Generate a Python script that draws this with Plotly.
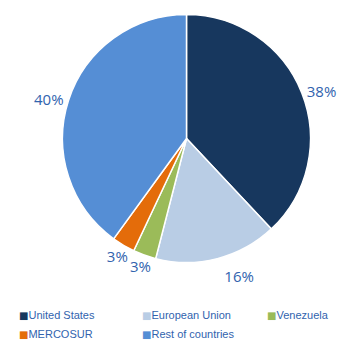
import plotly.graph_objects as go

categories = ["United States", "European Union", "Venezuela", "MERCOSUR", "Rest of countries"]
values = [38, 16, 3, 3, 40]
colors = ["#17375E", "#B9CDE5", "#9BBB59", "#E46C0A", "#558ED5"]
legend_columns = [0, 1, 2, 0, 1]  # legend column of each category
label_groups = ["main", "outB", "ring", "ring", "main"]

W, H = 341, 340
cx, cy, r = 186.5, 138.5, 124
TXT = "#3163AE"
LABEL_FONT = dict(family="Open Sans", size=15, color=TXT)


def dom(radius):
    return dict(x=[(cx - radius) / W, (cx + radius) / W],
                y=[(H - cy - radius) / H, (H - cy + radius) / H])


def positions(grp, mode):
    return [mode if g == grp else "none" for g in label_groups]


fig = go.Figure()
# the visible pie (also carries the labels of the two largest slices)
fig.add_trace(go.Pie(
    labels=categories, values=values, sort=False, direction="clockwise", rotation=0,
    marker=dict(colors=colors, line=dict(color="white", width=1.5)),
    texttemplate="%{percent:.0%}", textposition=positions("main", "outside"),
    textfont=LABEL_FONT, outsidetextfont=LABEL_FONT,
    domain=dom(r), showlegend=False, hoverinfo="skip",
))

clear = ["rgba(0,0,0,0)"] * len(values)
# transparent pie placing a label a bit further out
fig.add_trace(go.Pie(
    labels=categories, values=values, sort=False, direction="clockwise", rotation=0,
    marker=dict(colors=clear, line=dict(width=0)),
    texttemplate="%{percent:.0%}", textposition=positions("outB", "outside"),
    textfont=LABEL_FONT, outsidetextfont=LABEL_FONT,
    domain=dom(132), showlegend=False, hoverinfo="skip",
))
# transparent thin ring for the labels of the two small slices
fig.add_trace(go.Pie(
    labels=categories, values=values, sort=False, direction="clockwise", rotation=0,
    hole=0.97, marker=dict(colors=clear, line=dict(width=0)),
    texttemplate="%{percent:.0%}", insidetextorientation="horizontal",
    textposition=positions("ring", "inside"),
    textfont=LABEL_FONT, insidetextfont=LABEL_FONT,
    domain=dom(138), showlegend=False, hoverinfo="skip",
))

# legend entries (coloured square glyph + name)
legend_names = ["legend", "legend2", "legend3"]
for cat, col, lc in zip(categories, colors, legend_columns):
    fig.add_trace(go.Scatter(
        x=[None], y=[None], mode="markers",
        name=f"<span style='color:{col};font-family:DejaVu Sans;font-size:10px'>■</span>{cat}",
        marker=dict(symbol="square", size=8, color="rgba(0,0,0,0)", line=dict(width=0)),
        legend=legend_names[lc], hoverinfo="skip",
    ))

leg_font = dict(family="Liberation Sans", size=11, color=TXT)
swatch_x = [19, 142, 267]
leg_common = dict(orientation="v", xanchor="left", yanchor="top", y=0.1162,
                  font=leg_font, bgcolor="rgba(0,0,0,0)", itemclick=False,
                  tracegroupgap=0, borderwidth=0)
fig.update_layout(
    width=W, height=H, margin=dict(l=0, r=0, t=0, b=0, autoexpand=False),
    paper_bgcolor="white", plot_bgcolor="white",
    xaxis=dict(visible=False), yaxis=dict(visible=False),
    uniformtext=dict(mode="show", minsize=15),
    legend=dict(x=(swatch_x[0] - 40) / W, **leg_common),
    legend2=dict(x=(swatch_x[1] - 40) / W, **leg_common),
    legend3=dict(x=(swatch_x[2] - 40) / W, **leg_common),
)
fig.write_html("out.html")
